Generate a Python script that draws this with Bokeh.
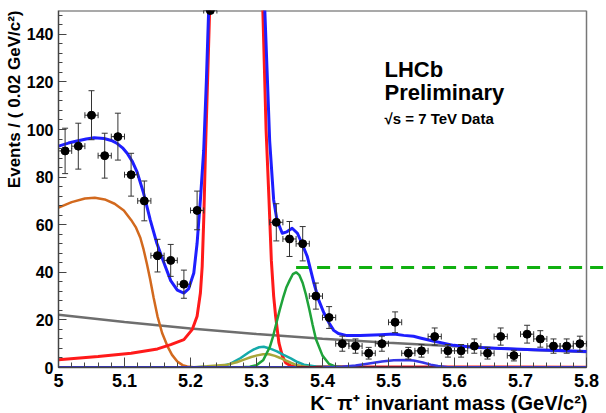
import math
from bokeh.plotting import figure
from bokeh.models import Range1d, FixedTicker, Label, ColumnDataSource, Title
from bokeh.embed import file_html
from bokeh.resources import INLINE

# ---------------- data ----------------
bin_centers = [5.01, 5.03, 5.05, 5.07, 5.09, 5.11, 5.13, 5.15, 5.17, 5.19, 5.21,
               5.33, 5.35, 5.37, 5.39, 5.41, 5.43, 5.45, 5.47, 5.49, 5.51, 5.53,
               5.55, 5.57, 5.59, 5.61, 5.63, 5.65, 5.67, 5.69, 5.71, 5.73, 5.75,
               5.77, 5.79]
bin_counts = [91, 93, 106, 89, 97, 81, 70, 47, 45, 35, 66,
              61, 54, 52, 30, 21, 10, 9, 6, 10, 19, 6,
              7, 13, 7, 7, 9, 6, 13, 5, 14, 12, 9,
              9, 10]
offscale_bins = [5.23]          # bin whose content is above the y range
bin_half_width = 0.01

# total fit (blue)
total_x = [5.000, 5.015, 5.028, 5.042, 5.054, 5.069, 5.080, 5.089, 5.097, 5.104,
           5.112, 5.119, 5.129, 5.139, 5.149, 5.160, 5.170, 5.180, 5.190, 5.197,
           5.205, 5.210, 5.215, 5.220, 5.224, 5.2275, 5.235, 5.305, 5.3126, 5.316,
           5.320, 5.326, 5.331, 5.339, 5.346, 5.354, 5.362, 5.369, 5.377, 5.382,
           5.387, 5.394, 5.402, 5.410, 5.417, 5.424, 5.437, 5.457, 5.488, 5.508,
           5.523, 5.538, 5.548, 5.569, 5.599, 5.629, 5.670, 5.720, 5.760, 5.800]
total_y = [93.0, 94.3, 95.2, 96.0, 96.5, 96.2, 95.4, 94.1, 92.3, 90.0,
           86.5, 82.2, 73.2, 62.0, 52.2, 43.8, 36.5, 32.5, 31.3, 33.0,
           39.7, 52.2, 70.4, 91.3, 120.0, 150.0, 250.0, 250.0, 150.0, 125.0,
           95.0, 70.4, 62.0, 56.4, 57.0, 58.5, 56.4, 52.0, 46.6, 41.0,
           35.5, 28.5, 23.0, 18.7, 15.6, 14.3, 13.4, 13.4, 13.8, 14.1,
           13.5, 13.1, 12.4, 11.0, 9.3, 8.5, 8.0, 7.5, 7.1, 6.7]

# B0 -> K pi signal (red)
signal_x = [5.000, 5.060, 5.110, 5.150, 5.170, 5.190, 5.2025, 5.210, 5.215, 5.2177,
            5.2202, 5.2227, 5.2258, 5.2290, 5.236, 5.303, 5.3096, 5.3145, 5.319, 5.3225,
            5.326, 5.329, 5.334, 5.339, 5.344, 5.352, 5.380, 5.450, 5.600, 5.800]
signal_y = [3.3, 4.6, 6.0, 7.8, 9.6, 11.7, 15.9, 21.5, 31.3, 42.4,
            63.4, 91.3, 120.0, 150.0, 250.0, 250.0, 150.0, 100.0, 70.0, 45.0,
            30.0, 21.5, 10.3, 5.0, 2.0, 0.7, 0.4, 0.3, 0.2, 0.1]

# partially reconstructed background (orange)
partreco_x = [5.000, 5.020, 5.040, 5.055, 5.070, 5.085, 5.099, 5.110, 5.117, 5.124,
              5.129, 5.134, 5.139, 5.144, 5.150, 5.157, 5.165, 5.172, 5.180, 5.188,
              5.195, 5.205, 5.220]
partreco_y = [67.2, 69.5, 71.0, 71.3, 70.6, 68.8, 66.0, 62.0, 59.0, 54.5,
              49.5, 43.5, 36.9, 29.5, 21.5, 14.5, 9.0, 5.3, 2.5, 1.0,
              0.4, 0.1, 0.0]

# combinatorial background (grey)
comb_x = [5.0, 5.1, 5.2, 5.3, 5.4, 5.5, 5.6, 5.7, 5.8]
comb_y = [22.2, 19.1, 16.4, 14.1, 12.1, 10.4, 8.9, 7.6, 6.5]

# misidentified components (teal, olive)
teal_x = [5.200, 5.245, 5.260, 5.276, 5.288, 5.296, 5.304, 5.311, 5.320, 5.331,
          5.341, 5.352, 5.362, 5.372, 5.390, 5.420, 5.500]
teal_y = [0.0, 0.5, 1.5, 4.0, 6.3, 7.6, 8.5, 8.7, 8.0, 6.8,
          5.3, 3.8, 2.3, 1.2, 0.4, 0.1, 0.0]
olive_x = [5.200, 5.225, 5.256, 5.270, 5.281, 5.292, 5.301, 5.310, 5.319, 5.328,
           5.336, 5.344, 5.352, 5.360, 5.367, 5.380, 5.420]
olive_y = [0.0, 0.5, 1.2, 2.2, 3.3, 4.4, 5.1, 5.6, 5.6, 4.9,
           4.0, 3.0, 2.0, 1.1, 0.5, 0.2, 0.0]

# Bs -> K pi component (green)
bs_x = [5.27, 5.29, 5.30, 5.31, 5.32, 5.325, 5.33, 5.335, 5.34, 5.345,
        5.35, 5.355, 5.36, 5.365, 5.37, 5.375, 5.38, 5.385, 5.39, 5.40,
        5.41, 5.42, 5.44]
bs_y = [0.0, 0.3, 1.0, 3.0, 8.5, 13.0, 18.5, 24.0, 29.0, 33.5,
        36.5, 39.2, 40.0, 38.8, 35.5, 30.5, 24.5, 18.0, 12.0, 5.0,
        1.5, 0.4, 0.0]
bs_level_x = [5.36]
bs_level_y = 42.0

# Lambda_b component (small blue bump)
lb_x = [5.40, 5.43, 5.45, 5.468, 5.49, 5.508, 5.525, 5.538, 5.552, 5.564,
        5.575, 5.59, 5.62, 5.80]
lb_y = [0.0, 0.3, 0.8, 1.6, 2.5, 3.0, 3.1, 2.9, 2.1, 1.2,
        0.6, 0.1, 0.0, 0.0]

# near-zero components along the axis
zero_x = [5.0, 5.8]
zero_y = [0.0, 0.0]
maroon_x = [5.36, 5.58]
maroon_y = [0.2, 0.2]

x_tick_vals = [5.0, 5.1, 5.2, 5.3, 5.4, 5.5, 5.6, 5.7, 5.8]
y_tick_vals = [0, 20, 40, 60, 80, 100, 120, 140]

# ---------------- figure ----------------
FONT = "Liberation Sans"
frame_left, frame_bottom = 58, 45
x_lo, x_hi = 5.0, 5.8
px_per_unit = 660.0
x_end = x_lo + (606 - frame_left) / px_per_unit
y_top = 150

p = figure(width=606, height=413, output_backend="svg", toolbar_location=None,
           x_range=Range1d(x_lo, x_end), y_range=Range1d(0, y_top),
           min_border_left=frame_left, min_border_right=0,
           min_border_top=10, min_border_bottom=frame_bottom)
p.outline_line_color = None
p.grid.visible = False
p.background_fill_color = "white"
p.border_fill_color = "white"

x_minor = [round(x_lo + 0.02 * i, 2) for i in range(41)]
y_minor = list(range(0, 150, 4))
p.xaxis.ticker = FixedTicker(ticks=x_tick_vals, minor_ticks=x_minor)
p.yaxis.ticker = FixedTicker(ticks=y_tick_vals, minor_ticks=y_minor)
p.xaxis.bounds = (x_lo, x_hi)
p.yaxis.bounds = (0, y_top)
p.xaxis.major_label_overrides = {5.0: "5"}
for ax, tin, mtin, fs, so in ((p.xaxis, 10, 5, "18px", 6), (p.yaxis, 8, 4, "16px", 5)):
    ax.major_tick_in = tin
    ax.major_tick_out = 0
    ax.minor_tick_in = mtin
    ax.minor_tick_out = 0
    ax.axis_line_color = "#444444"
    ax.axis_line_width = 1.5
    ax.major_tick_line_color = "#444444"
    ax.minor_tick_line_color = "#444444"
    ax.major_label_text_font = FONT
    ax.major_label_text_font_style = "bold"
    ax.major_label_text_font_size = fs
    ax.major_label_text_color = "black"
    ax.major_label_standoff = so

# axis titles (ROOT style: right aligned)
p.add_layout(Title(text="Events / ( 0.02 GeV/c\u00b2)", align="right", text_font=FONT,
                   text_font_style="bold", text_font_size="17px", text_color="black",
                   standoff=0), "left")
p.add_layout(Title(text="K\u207b \u03c0\u207a invariant mass (GeV/c\u00b2)", align="right",
                   text_font=FONT, text_font_style="bold", text_font_size="20px",
                   text_color="black", offset=19, standoff=0), "below")

# frame top and right borders
p.line([x_lo, x_hi], [y_top, y_top], line_color="#555555", line_width=2)
p.line([x_hi, x_hi], [0, y_top], line_color="#777777", line_width=1.5)

# components
p.line(comb_x, comb_y, line_color="#6e6e6e", line_width=2.5)
p.line(partreco_x, partreco_y, line_color="#d2691e", line_width=2.5)
p.line(signal_x, signal_y, line_color="#ff1a1a", line_width=3)
p.line(teal_x, teal_y, line_color="#15aaaa", line_width=2.5)
p.line(olive_x, olive_y, line_color="#a8a63a", line_width=2.5)
p.line(bs_x, bs_y, line_color="#1fa33a", line_width=2.5)
p.line(zero_x, zero_y, line_color="#3232c8", line_width=3)
p.line(maroon_x, maroon_y, line_color="#7a0a2a", line_width=2)
p.line(lb_x, lb_y, line_color="#3535e6", line_width=2.5)
p.line([bs_level_x[0], x_end], [bs_level_y, bs_level_y], line_color="#10b010",
       line_width=3, line_dash="13 8")
p.line(total_x, total_y, line_color="#1e1eff", line_width=3, line_join="round")

# data points with error bars
err = [math.sqrt(n) for n in bin_counts]
src = ColumnDataSource(dict(
    x=bin_centers, y=bin_counts,
    lo=[n - e for n, e in zip(bin_counts, err)],
    hi=[n + e for n, e in zip(bin_counts, err)],
    xl=[c - bin_half_width for c in bin_centers],
    xr=[c + bin_half_width for c in bin_centers],
))
ebc = "#333333"
p.segment(x0="x", y0="lo", x1="x", y1="hi", source=src, line_color=ebc, line_width=1)
p.segment(x0="xl", y0="y", x1="xr", y1="y", source=src, line_color=ebc, line_width=1)
p.scatter(x="x", y="lo", source=src, marker="dash", size=6, line_color=ebc, line_width=1)
p.scatter(x="x", y="hi", source=src, marker="dash", size=6, line_color=ebc, line_width=1)
p.scatter(x="xl", y="y", source=src, marker="dash", angle=math.pi / 2, size=6, line_color=ebc, line_width=1)
p.scatter(x="xr", y="y", source=src, marker="dash", angle=math.pi / 2, size=6, line_color=ebc, line_width=1)
p.scatter(x="x", y="y", source=src, marker="circle", size=8, fill_color="black", line_color="black")

off = ColumnDataSource(dict(x=offscale_bins, y=[y_top] * len(offscale_bins),
                            xl=[c - bin_half_width for c in offscale_bins],
                            xr=[c + bin_half_width for c in offscale_bins]))
p.segment(x0="xl", y0="y", x1="xr", y1="y", source=off, line_color=ebc, line_width=1)
p.scatter(x="xl", y="y", source=off, marker="dash", angle=math.pi / 2, size=6, line_color=ebc)
p.scatter(x="xr", y="y", source=off, marker="dash", angle=math.pi / 2, size=6, line_color=ebc)
p.scatter(x="x", y="y", source=off, marker="circle", size=8, fill_color="black", line_color="black")

# texts inside the frame
def px_to_x(px):
    return x_lo + (px - frame_left) / px_per_unit

def py_to_y(py):
    return (368 - py) * y_top / 358.0

for txt, ypx, fs in (("LHCb", 69, "22px"), ("Preliminary", 92, "22px"),
                     ("\u221as = 7 TeV Data", 118, "15px")):
    p.add_layout(Label(x=px_to_x(384), y=py_to_y(ypx), text=txt, text_font=FONT,
                       text_font_style="bold", text_font_size=fs, text_color="black",
                       text_baseline="alphabetic"))

open("out.html", "w").write(file_html(p, INLINE))
